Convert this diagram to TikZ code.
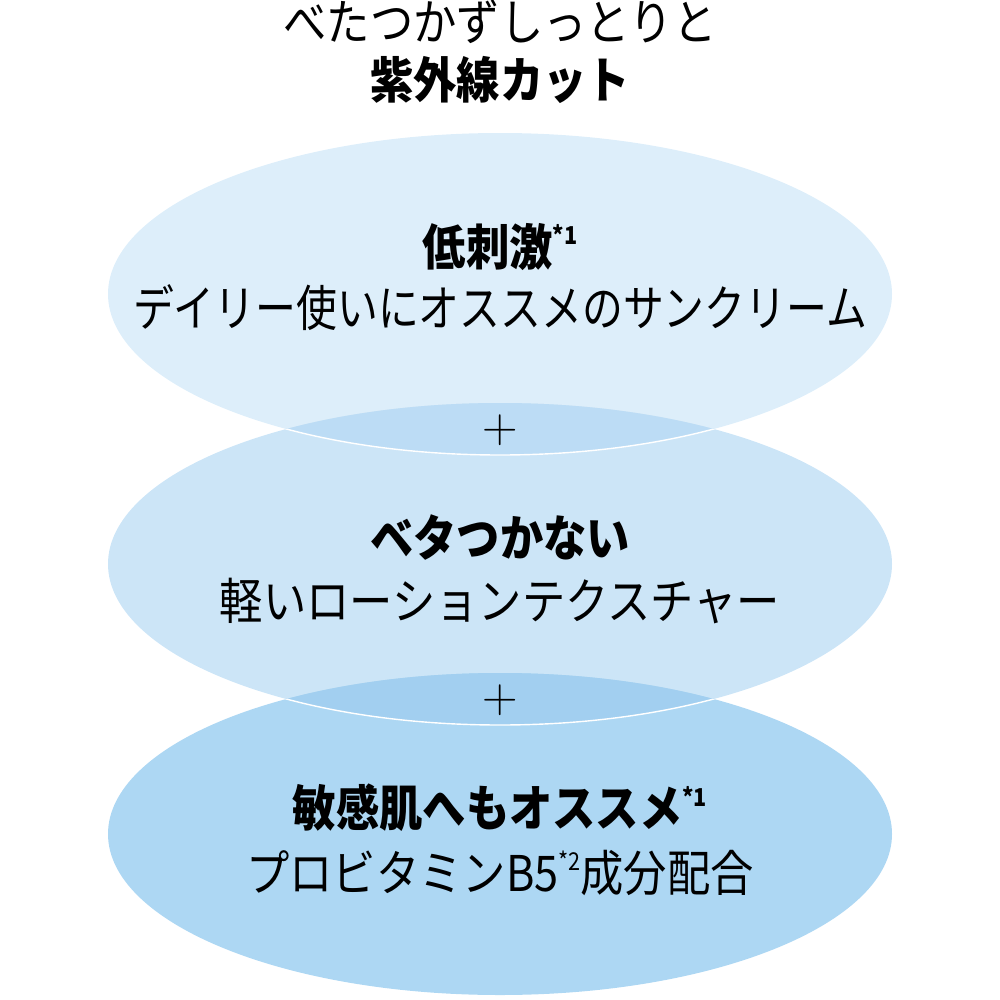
\documentclass[tikz,border=0pt]{standalone}
\usepackage{fontspec}
\usepackage{xcolor}
\newfontfamily\jp{Noto Sans CJK JP}[FakeStretch=0.88]
\newfontfamily\jpnarrow{Noto Sans CJK JP}[FakeStretch=0.83]
\definecolor{ellA}{HTML}{DDEEFA}
\definecolor{ellB}{HTML}{CCE5F7}
\definecolor{ellC}{HTML}{ADD7F3}
\definecolor{ovAB}{HTML}{BCDCF5}
\definecolor{ovBC}{HTML}{A2CFF0}
\newcommand{\note}[1]{\raisebox{0.42em}{\fontsize{14}{14}\selectfont #1}}

\begin{document}
\begin{tikzpicture}[x=0.2mm,y=-0.2mm,
    blob/.style={x radius=392,y radius=161},
    body/.style={inner sep=0pt,font=\jp\fontsize{28}{30}\selectfont},
    head/.style={inner sep=0pt,font=\jp\bfseries\fontsize{28}{30}\selectfont},
    plus/.style={inner sep=0pt,font=\rmfamily\fontsize{28}{30}\selectfont}]
            \useasboundingbox (0,0) rectangle (1000,1000);

            \coordinate (cA) at (500,294);
            \coordinate (cB) at (500,564);
            \coordinate (cC) at (500,834);

            % the three ellipses
            \fill[ellA] (cA) ellipse [blob];
            \fill[ellB] (cB) ellipse [blob];
            \fill[ellC] (cC) ellipse [blob];

            % overlaps
            \begin{scope}
                \clip (cA) ellipse [blob];
                \fill[ovAB] (cB) ellipse [blob];
            \end{scope}
            \begin{scope}
                \clip (cB) ellipse [blob];
                \fill[ovBC] (cC) ellipse [blob];
                \draw[white,line width=0.8pt] (cA) ellipse [blob];
            \end{scope}
            \begin{scope}
                \clip (cC) ellipse [blob];
                \draw[white,line width=0.8pt] (cB) ellipse [blob];
            \end{scope}

            \node[body] (lead) at (500,22) {べたつかずしっとりと};
            \node[head] (title) at (500,80) {紫外線カット};

            \node[head] (lowA) at (500,247) {低刺激\note{*1}};
            \node[body,font=\jpnarrow\fontsize{28}{30}\selectfont] (subA) at (500,308) {デイリー使いにオススメのサンクリーム};
            \node[plus] (plusA) at (500,430) {+};

            \node[head] (lowB) at (500,537) {ベタつかない};
            \node[body] (subB) at (500,601) {軽いローションテクスチャー};
            \node[plus] (plusB) at (500,700) {+};

            \node[head] (lowC) at (500,808) {敏感肌へもオススメ\note{*1}};
            \node[body] (subC) at (500,873) {プロビタミンB5\note{*2}成分配合};
        \end{tikzpicture}
\end{document}
